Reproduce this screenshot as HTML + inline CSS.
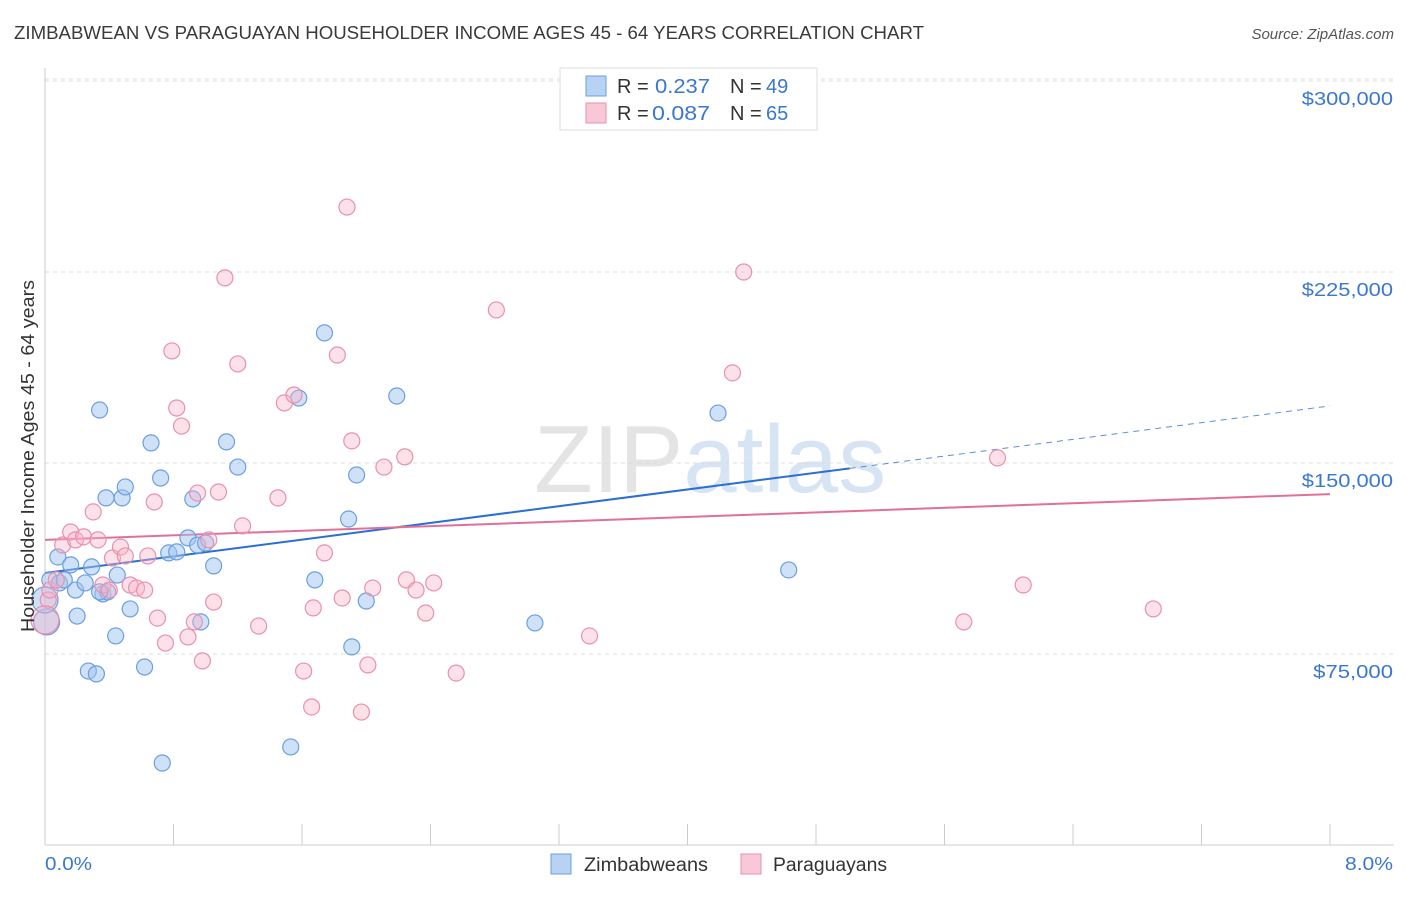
<!DOCTYPE html>
<html><head><meta charset="utf-8"><style>
body{margin:0;background:#fff;font-family:"Liberation Sans",sans-serif;}
svg text{font-family:"Liberation Sans",sans-serif;}
</style></head><body>
<svg id="chart" width="1406" height="892" xmlns="http://www.w3.org/2000/svg">
<text x="14" y="39" font-size="18.6" fill="#3a3a3a" textLength="910" lengthAdjust="spacingAndGlyphs">ZIMBABWEAN VS PARAGUAYAN HOUSEHOLDER INCOME AGES 45 - 64 YEARS CORRELATION CHART</text>
<text x="1394" y="39" font-size="15" fill="#555" text-anchor="end" font-style="italic">Source: ZipAtlas.com</text>
<text x="710" y="492" font-size="96" text-anchor="middle" fill="#e4e4e4" font-family="Liberation Serif">ZIP<tspan fill="#d6e4f4" font-family="Liberation Sans">atlas</tspan></text>
<g id="grid"></g><g id="axes"></g><g id="lines"></g><g id="pts"></g>
<text transform="translate(34,456) rotate(-90)" font-size="18" fill="#333" text-anchor="middle" textLength="352" lengthAdjust="spacingAndGlyphs">Householder Income Ages 45 - 64 years</text>
<text x="45" y="870" font-size="18" fill="#3a78d0" textLength="47" lengthAdjust="spacingAndGlyphs">0.0%</text>
<text x="1345" y="870" font-size="18" fill="#3a78d0" textLength="48" lengthAdjust="spacingAndGlyphs">8.0%</text>
<g>
<rect x="560" y="68" width="257" height="62" fill="#fff" stroke="#ddd"/>
<rect x="586" y="76" width="20" height="20" fill="#b8d2f4" stroke="#6a9fe0"/>
<rect x="586" y="103" width="20" height="20" fill="#f8c8d6" stroke="#e890b0"/>
<text x="617" y="93" font-size="20" fill="#333">R =</text>
<text x="655" y="93" font-size="20" fill="#3a78d0" textLength="55" lengthAdjust="spacingAndGlyphs">0.237</text>
<text x="730" y="93" font-size="20" fill="#333">N =</text>
<text x="766" y="93" font-size="20" fill="#3a78d0">49</text>
<text x="617" y="120" font-size="20" fill="#333">R =</text>
<text x="652" y="120" font-size="20" fill="#3a78d0" textLength="58" lengthAdjust="spacingAndGlyphs">0.087</text>
<text x="730" y="120" font-size="20" fill="#333">N =</text>
<text x="766" y="120" font-size="20" fill="#3a78d0">65</text>
</g>
<g>
<rect x="551" y="854" width="20" height="20" fill="#b8d2f4" stroke="#6a9fe0"/>
<text x="584" y="871" font-size="19" fill="#333" textLength="124" lengthAdjust="spacingAndGlyphs">Zimbabweans</text>
<rect x="741" y="854" width="20" height="20" fill="#f8c8d6" stroke="#e890b0"/>
<text x="773" y="871" font-size="19" fill="#333" textLength="114" lengthAdjust="spacingAndGlyphs">Paraguayans</text>
</g>
</svg>
<script>
const yTicks=[75000,150000,225000,300000];
const yTickLabels=["$75,000","$150,000","$225,000","$300,000"];
const xTicks=[0,0.8,1.6,2.4,3.2,4.0,4.8,5.6,6.4,7.2,8.0];
const blueX=[0.03,0.08,0.09,0.12,0.16,0.19,0.20,0.25,0.27,0.29,0.32,0.34,0.36,0.38,0.39,0.44,0.45,0.48,0.50,0.53,0.62,0.66,0.72,0.73,0.77,0.82,0.89,0.92,0.95,0.97,1.00,1.05,1.13,1.20,1.53,1.58,1.68,1.74,1.89,1.91,1.94,2.00,2.19,3.05,4.19,4.63,0.01,0.0,0.34];
const blueY=[104.1,113.1,102.9,104.1,110.0,100.1,89.9,102.9,68.3,109.2,67.2,170.8,98.6,136.3,99.4,82.1,106.0,136.3,140.6,92.7,69.9,157.9,144.1,32.2,114.7,115.1,120.6,135.9,117.8,87.6,118.6,109.6,158.3,148.4,38.5,175.5,104.1,201.1,128.0,77.8,145.3,95.8,176.3,87.2,169.6,108.0,87.6,96.2,99.4];
const pinkX=[0.02,0.03,0.07,0.11,0.16,0.19,0.24,0.30,0.33,0.36,0.40,0.42,0.47,0.50,0.53,0.57,0.62,0.64,0.68,0.70,0.75,0.79,0.82,0.85,0.89,0.93,0.95,0.98,1.02,1.05,1.08,1.12,1.20,1.23,1.33,1.45,1.49,1.55,1.61,1.66,1.67,1.74,1.82,1.85,1.88,1.91,1.97,2.01,2.04,2.11,2.24,2.25,2.31,2.37,2.42,2.56,2.81,3.39,4.28,4.35,5.72,5.93,6.09,6.90,0.0];
const pinkY=[96.2,100.1,104.1,117.8,122.9,119.8,121.0,130.8,119.8,102.1,100.1,112.7,117.0,113.5,102.1,100.9,100.1,113.5,134.7,89.1,79.3,194.0,171.6,164.5,81.7,87.6,138.2,72.3,119.8,95.4,138.6,222.7,188.9,125.3,86.0,136.3,173.6,176.7,68.3,54.2,93.1,114.7,192.4,97.0,250.5,158.7,52.2,70.7,100.9,148.4,152.4,104.1,100.1,91.1,102.9,67.5,210.1,82.1,185.4,225.0,87.6,152.0,102.1,92.7,88.4];
const blueTrend=[106.8,8.2];
const blueSolidEnd=5.01;
const pinkTrend=[119.8,2.25];
const NS="http://www.w3.org/2000/svg";
const sx=v=>45+v/8*1285;
const sy=v=>845-v/75000*191;
function mk(tag,attrs,parent){const e=document.createElementNS(NS,tag);for(const k in attrs)e.setAttribute(k,attrs[k]);document.getElementById(parent).appendChild(e);return e;}
yTicks.forEach((t,i)=>{
 const l=mk('line',{x1:45,x2:1394,y1:sy(t),y2:sy(t),stroke:'#ddd','stroke-dasharray':'4,4'},'grid');
 
 
 const lab=yTickLabels[i];
 const tx=mk('text',{x:1393,y:sy(t)+24,'font-size':18,fill:'#3a78d0','text-anchor':'end',textLength:lab.length*11.4,lengthAdjust:'spacingAndGlyphs'},'axes');
 tx.textContent=lab;
 
 
});
const tl=mk('line',{x1:45,x2:1394,y1:79,y2:79,stroke:'#ddd','stroke-dasharray':'4,4'},'grid');


const ya=mk('line',{x1:45,x2:45,y1:68,y2:845,stroke:'#ccc'},'axes');


const xa=mk('line',{x1:45,x2:1394,y1:845,y2:845,stroke:'#ccc'},'axes');


xTicks.forEach(t=>{const l=mk('line',{x1:sx(t),x2:sx(t),y1:824,y2:845,stroke:'#ccc'},'axes');
 
 });
const ty=(tr,x)=>sy((tr[0]+tr[1]*x)*1000);
let b1=mk('line',{x1:sx(0),y1:ty(blueTrend,0),x2:sx(blueSolidEnd),y2:ty(blueTrend,blueSolidEnd),stroke:'#2a6fd6','stroke-width':2},'lines');


let b2=mk('line',{x1:sx(blueSolidEnd),y1:ty(blueTrend,blueSolidEnd),x2:sx(8),y2:ty(blueTrend,8),stroke:'#5a8fd6','stroke-width':1,'stroke-dasharray':'6,5'},'lines');


let p1=mk('line',{x1:sx(0),y1:ty(pinkTrend,0),x2:sx(8),y2:ty(pinkTrend,8),stroke:'#e0709a','stroke-width':2},'lines');


blueX.forEach((x,i)=>{const r=(i>=46&&i<=47)?13:8;
 const c=mk('circle',{cx:sx(x),cy:sy(blueY[i]*1000),r:r,fill:'rgba(160,196,240,0.5)',stroke:'#6a9fe0','stroke-width':1.2},'pts');
 
 });
pinkX.forEach((x,i)=>{const r=(i==pinkX.length-1)?14:8;
 const c=mk('circle',{cx:sx(x),cy:sy(pinkY[i]*1000),r:r,fill:'rgba(248,180,200,0.4)',stroke:'#e890b0','stroke-width':1.2},'pts');
 
 });
</script>
</body></html>
